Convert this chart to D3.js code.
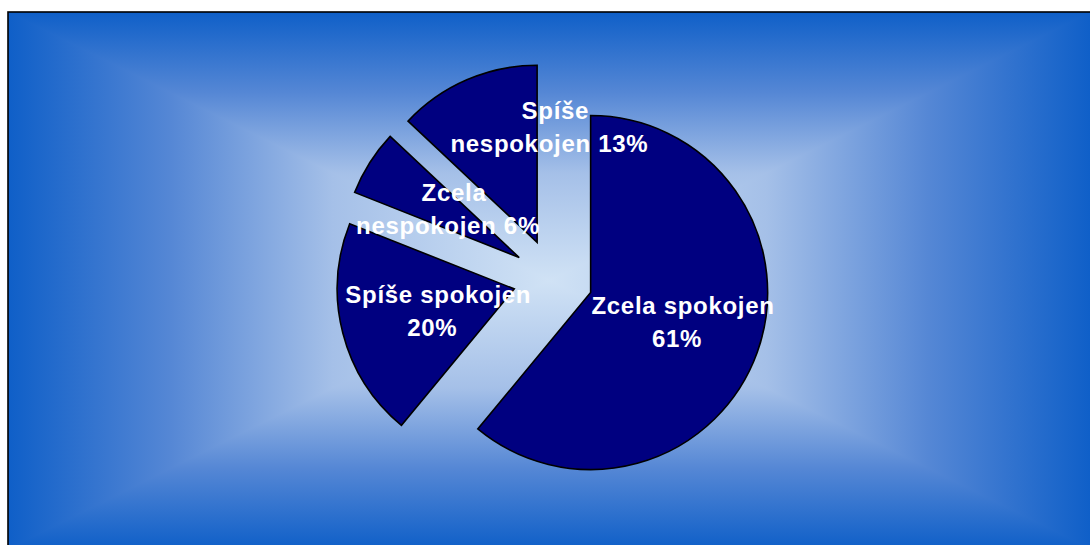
<!DOCTYPE html>
<html>
<head>
<meta charset="utf-8">
<script src="https://cdn.jsdelivr.net/npm/d3@7"></script>
<style>
  html, body { margin: 0; padding: 0; background: #ffffff; }
  svg { display: block; }
</style>
</head>
<body>
<svg id="chart" width="1090" height="545"></svg>
<script>
// Spokojenost respondentů
const categories = ["Zcela spokojen", "Spíše spokojen", "Zcela nespokojen", "Spíše nespokojen"];
const values = [61, 20, 6, 13];
// first line / second line of each slice label
const labelLines = [
  ["Zcela spokojen", "61%"],
  ["Spíše spokojen", "20%"],
  ["Zcela", "nespokojen 6%"],
  ["Spíše", "nespokojen 13%"]
];

const W = 1090, H = 545;
const svg = d3.select("#chart");

// ---- chart area with a rectangular "from centre" gradient ----
const area = { x0: 8, y0: 12, x1: 1091, y1: 549 };
const cx = (area.x0 + area.x1) / 2, cy = (area.y0 + area.y1) / 2;
// colour ramp from the outer edge (0) to the centre (1)
const ramp = [
  [0.0, "#0f5fc8"],
  [0.3, "#5587d5"],
  [0.6, "#a5c0e8"],
  [1.0, "#d0e2f5"]
];

const defs = svg.append("defs");
function symmetricGradient(id, x1, y1, x2, y2) {
  const gr = defs.append("linearGradient")
    .attr("id", id).attr("gradientUnits", "userSpaceOnUse")
    .attr("x1", x1).attr("y1", y1).attr("x2", x2).attr("y2", y2);
  const stops = ramp.map(([f, c]) => [f / 2, c])
    .concat(ramp.slice(0, -1).reverse().map(([f, c]) => [1 - f / 2, c]));
  stops.forEach(([o, c]) => gr.append("stop").attr("offset", o).attr("stop-color", c));
}
symmetricGradient("bgH", area.x0, 0, area.x1, 0);
symmetricGradient("bgV", 0, area.y0, 0, area.y1);

// left/right parts come from the horizontal gradient, top/bottom triangles from the vertical one
svg.append("rect")
  .attr("x", area.x0).attr("y", area.y0)
  .attr("width", area.x1 - area.x0).attr("height", area.y1 - area.y0)
  .attr("fill", "url(#bgH)");
const tri = pts => "M" + pts.map(p => p.join(",")).join("L") + "Z";
svg.append("path")
  .attr("d", tri([[area.x0, area.y0], [area.x1, area.y0], [cx, cy]]))
  .attr("fill", "url(#bgV)");
svg.append("path")
  .attr("d", tri([[area.x0, area.y1], [area.x1, area.y1], [cx, cy]]))
  .attr("fill", "url(#bgV)");

svg.append("rect")
  .attr("x", area.x0).attr("y", area.y0)
  .attr("width", area.x1 - area.x0 + 4).attr("height", area.y1 - area.y0 + 4)
  .attr("fill", "none").attr("stroke", "#000").attr("stroke-width", 1.6);

// ---- exploded pie ----
const pieCenter = [553, 279];
const radius = 177;
const explode = 40;

const pie = d3.pie().sort(null).value(d => d)
  .startAngle(0).endAngle(2 * Math.PI);
const arcs = pie(values);
const arc = d3.arc().innerRadius(0).outerRadius(radius);

const g = svg.append("g").attr("transform", `translate(${pieCenter[0]},${pieCenter[1]})`);

const mid = d => (d.startAngle + d.endAngle) / 2;
const polar = (r, a) => [Math.sin(a) * r, -Math.cos(a) * r];

g.selectAll("path.slice")
  .data(arcs)
  .join("path")
  .attr("class", "slice")
  .attr("transform", d => {
    const [dx, dy] = polar(explode, mid(d));
    return `translate(${dx},${dy})`;
  })
  .attr("d", arc)
  .attr("fill", "#000080")
  .attr("stroke", "#000")
  .attr("stroke-width", 1.6)
  .attr("stroke-linejoin", "miter");

// ---- labels ----
const labelRadius = 135;
// fine placement of each label block around its slice direction
const labelNudge = [[0, 6], [13, 7], [12, 11], [53, -20]];
const lineGap = 33;

const labels = g.selectAll("text.lbl")
  .data(arcs)
  .join("text")
  .attr("class", "lbl")
  .attr("text-anchor", "middle")
  .attr("fill", "#ffffff")
  .style("font-family", "'Liberation Sans', Arial, sans-serif")
  .style("font-weight", "bold")
  .style("font-size", "24px")
  .style("letter-spacing", "0.7px")
  .attr("transform", (d, i) => {
    const [px, py] = polar(labelRadius, mid(d));
    return `translate(${px + labelNudge[i][0]},${py + labelNudge[i][1]})`;
  });

labels.selectAll("tspan")
  .data((d, i) => labelLines[i].map((t, j) => ({ t, j })))
  .join("tspan")
  .attr("x", d => d.j === 0 ? 3 : -3)
  .attr("y", d => d.j === 0 ? -lineGap / 2 : lineGap / 2)
  .text(d => d.t);
</script>
</body>
</html>
